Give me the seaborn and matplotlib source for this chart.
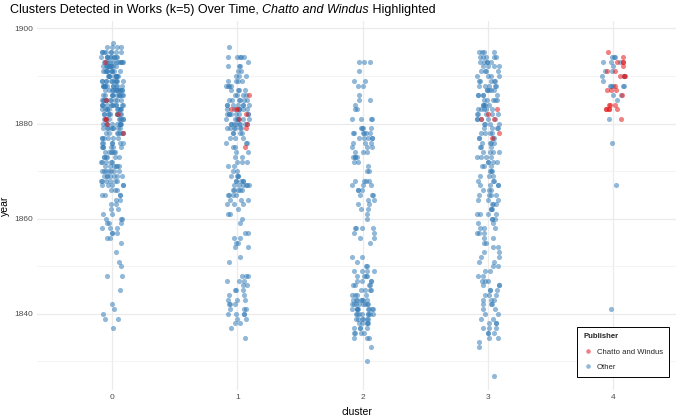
import numpy as np
import pandas as pd
import matplotlib
matplotlib.use("Agg")
import matplotlib.pyplot as plt
import seaborn as sns
from matplotlib.lines import Line2D

# ---------------- data (year -> count per cluster/publisher) ----------------
c0_other_years = [1897,1896,1895,1894,1893,1892,1891,1890,1889,1888,1887,1886,1885,1884,1883,1882,1881,1880,1879,1878,
                  1877,1876,1875,1874,1873,1872,1871,1870,1869,1868,1867,1866,1865,1864,1863,1862,1861,1860,1859,1858,
                  1857,1856,1855,1853,1851,1850,1848,1845,1842,1841,1840,1839,1837]
c0_other_counts = [1,4,8,10,11,11,10,10,11,12,12,11,11,11,10,10,9,9,8,7,
                   6,6,6,6,6,5,6,7,7,6,5,3,4,2,2,2,2,3,3,3,
                   3,2,1,1,1,1,2,1,1,1,1,2,1]
c0_cw_years = [1893,1885,1882,1881,1880,1878]
c0_cw_counts = [1,1,1,2,1,1]

c1_other_years = [1896,1894,1893,1892,1891,1890,1889,1888,1887,1886,1885,1884,1883,1882,1881,1880,1879,1878,1877,1876,
                  1875,1874,1873,1872,1871,1870,1869,1868,1867,1866,1865,1864,1863,1862,1861,1860,1859,1857,1856,1855,
                  1854,1852,1851,1848,1847,1846,1845,1844,1843,1842,1841,1840,1839,1838,1837,1835]
c1_other_counts = [1,5,1,3,2,3,4,4,4,4,6,7,7,8,7,8,6,4,3,3,
                   2,2,2,3,2,2,4,5,6,5,4,3,3,1,2,1,1,2,2,2,
                   2,1,1,3,3,2,3,2,3,3,3,4,2,2,1,1]
c1_cw_years = [1886,1883,1882,1881,1880,1879,1875]
c1_cw_counts = [1,3,1,1,1,1,1]

c2_other_years = [1893,1891,1889,1888,1886,1885,1884,1883,1881,1879,1878,1877,1876,1875,1874,1873,1872,1871,1870,1868,
                  1867,1866,1865,1864,1863,1862,1861,1860,1858,1857,1856,1855,1852,1851,1850,1849,1848,1847,1846,1845,
                  1844,1843,1842,1841,1840,1839,1838,1837,1836,1835,1833,1830]
c2_other_counts = [3,1,2,2,1,2,1,2,4,4,6,5,3,3,3,4,2,1,2,4,
                   3,3,3,2,2,2,1,1,4,2,2,1,2,1,2,4,4,4,4,4,
                   4,7,8,9,8,6,5,4,4,3,1,1]

c3_other_years = [1895,1894,1893,1892,1891,1890,1889,1888,1887,1886,1885,1884,1883,1882,1881,1880,1879,1878,1877,1876,
                  1875,1874,1873,1872,1871,1870,1869,1868,1867,1866,1865,1864,1863,1862,1861,1860,1859,1858,1857,1856,
                  1855,1854,1853,1852,1851,1850,1849,1848,1847,1846,1845,1844,1843,1842,1841,1840,1839,1838,1837,1836,
                  1835,1834,1833,1827]
c3_other_counts = [4,5,5,4,4,4,5,5,5,5,5,5,5,5,5,4,4,4,4,4,
                   3,4,4,4,3,3,3,3,4,3,4,3,3,3,4,3,2,3,3,2,
                   2,2,2,2,2,2,2,2,3,3,3,3,3,3,2,2,2,3,3,3,
                   2,1,1,1]
c3_cw_years = [1883,1882,1881,1878,1877]
c3_cw_counts = [1,1,2,1,1]

c4_other_years = [1894,1893,1892,1891,1890,1889,1888,1886,1885,1881,1876,1867,1841]
c4_other_counts = [3,3,1,2,3,1,5,2,1,1,1,1,1]
c4_cw_years = [1895,1894,1893,1892,1891,1890,1888,1887,1886,1884,1883,1881]
c4_cw_counts = [1,1,3,1,2,3,1,3,1,3,5,1]

clusters = [0, 1, 2, 3, 4]
publishers = ["Chatto and Windus", "Other"]
pub_colors = {"Chatto and Windus": "#E41A1C", "Other": "#377EB8"}

title_parts = ["Clusters Detected in Works (k=5) Over Time, ", "Chatto and Windus", " Highlighted"]

# ---------------- build table ----------------
groups = [
    (0, "Other", c0_other_years, c0_other_counts),
    (0, "Chatto and Windus", c0_cw_years, c0_cw_counts),
    (1, "Other", c1_other_years, c1_other_counts),
    (1, "Chatto and Windus", c1_cw_years, c1_cw_counts),
    (2, "Other", c2_other_years, c2_other_counts),
    (3, "Other", c3_other_years, c3_other_counts),
    (3, "Chatto and Windus", c3_cw_years, c3_cw_counts),
    (4, "Other", c4_other_years, c4_other_counts),
    (4, "Chatto and Windus", c4_cw_years, c4_cw_counts),
]
rows = []
for cl, pub, yrs, cnts in groups:
    for y in np.repeat(yrs, cnts):
        rows.append({"cluster": cl, "year": float(y), "publisher": pub})
df = pd.DataFrame(rows)

# ---------------- plot ----------------
sns.set_theme(style="whitegrid")
plt.rcParams["font.family"] = ["Liberation Sans", "DejaVu Sans"]

fig = plt.figure(figsize=(6.8, 4.18), dpi=100)
ax = fig.add_axes([37/680, 1-390/418, (676-37)/680, (390-20.8)/418])

np.random.seed(3)
for pub in ["Other", "Chatto and Windus"]:
    sub = df[df["publisher"] == pub]
    sns.stripplot(data=sub, x="cluster", y="year", order=clusters,
                  color=pub_colors[pub], alpha=0.55, size=3.7, linewidth=0,
                  jitter=0.09, ax=ax, legend=False, zorder=3)

ax.set_xlim(-0.6, 4.5)
ax.set_ylim(1824, 1901.6)
ax.set_yticks([1840, 1860, 1880, 1900])
ax.set_yticks([1830, 1850, 1870, 1890], minor=True)
ax.set_xticks(clusters)
ax.set_xticklabels([str(c) for c in clusters])

ax.set_facecolor("white")
for s in ax.spines.values():
    s.set_visible(False)
ax.grid(True, which="major", color="#EBEBEB", linewidth=0.9)
ax.grid(True, which="minor", axis="y", color="#F3F3F3", linewidth=0.6)
ax.set_axisbelow(True)
ax.tick_params(axis="both", which="both", length=0, labelsize=6, labelcolor="#4D4D4D", pad=3)

ax.set_xlabel("cluster", fontsize=7.5, color="black", labelpad=4)
ax.set_ylabel("year", fontsize=7.5, color="black", labelpad=3)

# title with italic part
fig.canvas.draw()
renderer = fig.canvas.get_renderer()
x0 = 10 / 680
ty = 1 - 10 / 418
styles = ["normal", "italic", "normal"]
for part, st in zip(title_parts, styles):
    t = fig.text(x0, ty, part, fontsize=9, style=st, va="center", ha="left", color="black")
    bb = t.get_window_extent(renderer=renderer)
    x0 += bb.width / (fig.dpi * fig.get_figwidth())

handles = [Line2D([0], [0], marker="o", linestyle="", markersize=3.3, markeredgewidth=0,
                  color=pub_colors[p], alpha=0.55, label=p) for p in publishers]
leg = ax.legend(handles=handles, title="Publisher", loc="lower right",
                bbox_to_anchor=(0.989, 0.035), borderaxespad=0, fontsize=5.6,
                title_fontproperties={"weight": "bold", "size": 5.6}, alignment="left",
                frameon=True, fancybox=False, edgecolor="black", framealpha=1,
                borderpad=0.8, labelspacing=1.0, handletextpad=0.5, handlelength=1.2)
leg.get_frame().set_linewidth(0.7)

fig.savefig("out.png", dpi=100)
